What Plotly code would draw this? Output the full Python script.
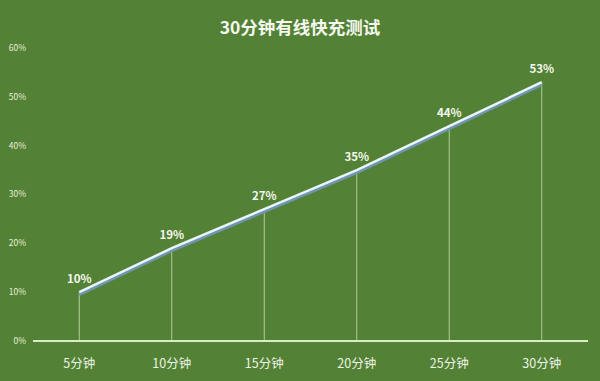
import plotly.graph_objects as go

categories = ["5分钟", "10分钟", "15分钟", "20分钟", "25分钟", "30分钟"]
values = [10, 19, 27, 35, 44, 53]
labels = [f"{v}%" for v in values]
y_ticks = [0, 10, 20, 30, 40, 50, 60]
y_tick_text = [f"{t}%" for t in y_ticks]

bg = "#538135"
font = "Noto Sans CJK SC"

fig = go.Figure()

# drop lines from each point to the axis
for c, v in zip(categories, values):
    fig.add_trace(go.Scatter(x=[c, c], y=[0, v], mode="lines",
                             line=dict(color="rgba(220,235,200,0.7)", width=1),
                             hoverinfo="skip", showlegend=False))

# shadow of the line
fig.add_trace(go.Scatter(x=categories, y=[v - 0.5 for v in values], mode="lines",
                         line=dict(color="#6f95b3", width=3),
                         hoverinfo="skip", showlegend=False))
# main line
fig.add_trace(go.Scatter(x=categories, y=values, mode="lines+markers+text",
                         line=dict(color="#eaf5f8", width=2.5),
                         marker=dict(size=8, color="rgba(0,0,0,0)"),
                         text=labels, textposition="top center",
                         textfont=dict(color="#f4f8ee", size=11.5, family=font, weight="bold"),
                         showlegend=False))

fig.update_layout(
    width=600, height=381,
    paper_bgcolor=bg, plot_bgcolor=bg,
    margin=dict(l=33, r=12, t=48, b=40),
    title=dict(text="<b>30分钟有线快充测试</b>", x=0.5, xanchor="center", y=0.928, yanchor="middle",
               font=dict(color="#f4f8ee", size=17.5, family=font)),
    xaxis=dict(type="category", range=[-0.5, 5.5], showgrid=False, zeroline=False,
               showline=False, ticks="", tickfont=dict(color="#eef5e6", size=12.5, family=font),
               ticklabelstandoff=13, automargin=False),
    yaxis=dict(range=[0, 60], tickvals=y_ticks, ticktext=y_tick_text, showgrid=False,
               zeroline=True, zerolinecolor="#d8ecc8", zerolinewidth=2, showline=False,
               tickfont=dict(color="#e6f0d8", size=8.5, family=font), ticklabelstandoff=6,
               automargin=False),
)

fig.write_html("out.html")
